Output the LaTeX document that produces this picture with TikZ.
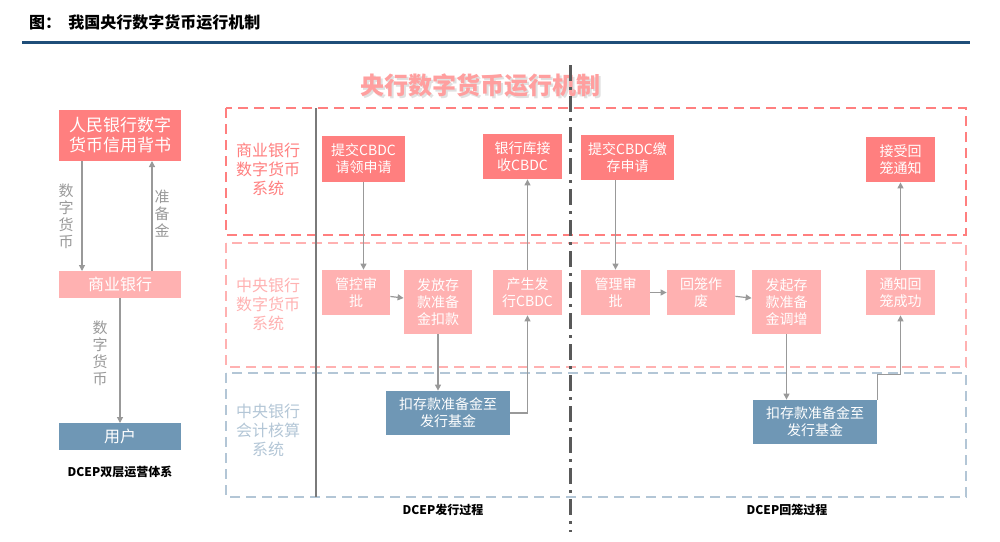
\documentclass[tikz,border=0pt]{standalone}
\usepackage{fontspec}
\setmainfont{Noto Sans CJK SC}
\usetikzlibrary{arrows.meta,calc}
\definecolor{dk}{HTML}{FF7F7F}
\definecolor{lt}{HTML}{FFB1B1}
\definecolor{bl}{HTML}{6F97B5}
\definecolor{lbl}{HTML}{B3C6D6}
\definecolor{navy}{HTML}{1F4E79}
\definecolor{ar}{HTML}{999999}
\begin{document}
\begin{tikzpicture}[x=0.5pt,y=-0.5pt,
  bx/.style={draw=none,text=white,align=center,inner sep=0pt,font=\fontsize{7}{8.5}\selectfont},
  arr/.style={draw=ar,line width=0.6pt,-{Triangle[length=3pt,width=3pt]}},
  reg/.style={dashed,line width=1pt,dash pattern=on 5pt off 3pt},
  rl/.style={align=center,font=\fontsize{8}{9.5}\selectfont}]
\useasboundingbox (0,0) rectangle (1000,541);
\node[anchor=west,font=\bfseries\fontsize{8}{9}\selectfont] (t) at (22,22) {图：\ \ 我国央行数字货币运行机制};
\draw[navy,line width=1.5pt] (22,42) -- (970,42);
\node[font=\bfseries\fontsize{12}{13}\selectfont,text=black!12] at (482,87) {央行数字货币运行机制};
\node[font=\bfseries\fontsize{12}{13}\selectfont,text=lt!90!red] (big) at (480,85) {央行数字货币运行机制};
% left
\node[bx,fill=dk,minimum width=61pt,minimum height=25.5pt,font=\fontsize{8.5}{10}\selectfont] (pboc) at (120,135.5) {人民银行数字\\货币信用背书};
\node[bx,fill=lt,minimum width=61pt,minimum height=13.5pt,font=\fontsize{8}{9}\selectfont] (cb) at (120,284.5) {商业银行};
\node[bx,fill=bl,minimum width=61pt,minimum height=13.5pt,font=\fontsize{8}{9}\selectfont] (user) at (120,436.5) {用户};
\draw[arr] (82,161) -- (82,271);
\draw[arr] (152,271) -- (152,161);
\draw[arr] (120,298) -- (120,423);
\node[rl,text=ar,font=\fontsize{7.5}{8.5}\selectfont] (l1) at (66,216) {数\\字\\货\\币};
\node[rl,text=ar,font=\fontsize{7.5}{8.5}\selectfont] (l2) at (162,214) {准\\备\\金};
\node[rl,text=ar,font=\fontsize{7.5}{8.5}\selectfont] (l3) at (100,353) {数\\字\\货\\币};
\node[font=\bfseries\fontsize{6}{7}\selectfont] (dl) at (120,472) {DCEP双层运营体系};
% regions
\draw[reg,dk] (226,108) rectangle (966,235);
\draw[reg,lt] (226,243) rectangle (966,367);
\draw[reg,lbl] (226,373) rectangle (966,497);
\node[rl,text=dk] (r1) at (268,169) {商业银行\\数字货币\\系统};
\node[rl,text=lt] (r2) at (268,304) {中央银行\\数字货币\\系统};
\node[rl,text=lbl] (r3) at (268,430) {中央银行\\会计核算\\系统};
\draw[ar!80!black,line width=0.6pt] (316,108) -- (316,497);
\draw[black!65,line width=1.5pt,dash pattern=on 8pt off 3pt on 1.5pt off 3pt] (570,65) -- (570,532);
% nodes
\node[bx,fill=dk,minimum width=41.5pt,minimum height=23pt] (A) at (363.5,159) {提交CBDC\\请领申请};
\node[bx,fill=dk,minimum width=39.5pt,minimum height=22.5pt] (B) at (522.5,156.5) {银行库接\\收CBDC};
\node[bx,fill=lt,minimum width=34pt,minimum height=22.5pt] (C) at (356,292.5) {管控审\\批};
\node[bx,fill=lt,minimum width=34pt,minimum height=32pt] (D) at (438,302) {发放存\\款准备\\金扣款};
\node[bx,fill=lt,minimum width=34.5pt,minimum height=22.5pt] (E) at (527.5,292.5) {产生发\\行CBDC};
\node[bx,fill=bl,minimum width=62pt,minimum height=22pt] (F) at (448,413) {扣存款准备金至\\发行基金};
\node[bx,fill=dk,minimum width=46.5pt,minimum height=22.5pt] (G) at (627.5,157.5) {提交CBDC缴\\存申请};
\node[bx,fill=dk,minimum width=34.5pt,minimum height=22.5pt] (H) at (900.5,159.5) {接受回\\笼通知};
\node[bx,fill=lt,minimum width=34.5pt,minimum height=22.5pt] (I) at (615.5,292.5) {管理审\\批};
\node[bx,fill=lt,minimum width=34pt,minimum height=22.5pt] (J) at (701,292.5) {回笼作\\废};
\node[bx,fill=lt,minimum width=34.5pt,minimum height=32pt] (K) at (786.5,302) {发起存\\款准备\\金调增};
\node[bx,fill=lt,minimum width=34.5pt,minimum height=22.5pt] (L) at (900.5,292.5) {通知回\\笼成功};
\node[bx,fill=bl,minimum width=62pt,minimum height=22pt] (M) at (815,422) {扣存款准备金至\\发行基金};
% arrows
\draw[arr] (A.south) -- (C.north -| A.south);
\draw[arr] (C) -- (D);
\draw[arr] (D.south) -- (F.north -| D.south);
\draw[arr] (F.east) -| (E.south);
\draw[arr] (E.north) -- (E.north |- B.south);
\draw[arr] (G.south -| I.north) -- (I.north);
\draw[arr] (I) -- (J);
\draw[arr] (J) -- (K);
\draw[arr] (K.south) -- (K.south |- M.north);
\coordinate (mk) at (M.north east);
\draw[arr] (mk) -- ++(0,-25) -| (L.south);
\draw[arr] (L.north) -- (H.south);
\node[font=\bfseries\fontsize{6}{7}\selectfont] (p1) at (443,510) {DCEP发行过程};
\node[font=\bfseries\fontsize{6}{7}\selectfont] (p2) at (787,510) {DCEP回笼过程};
\end{tikzpicture}
\end{document}
